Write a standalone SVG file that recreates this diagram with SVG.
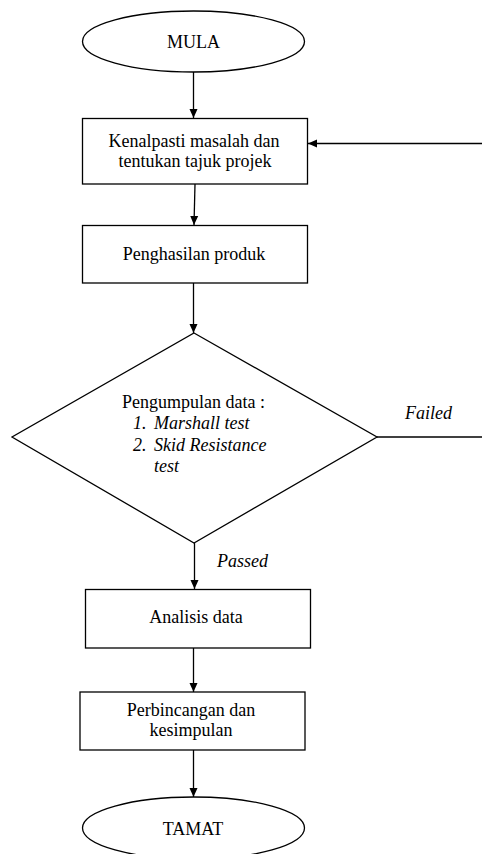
<svg xmlns="http://www.w3.org/2000/svg" width="482" height="854" viewBox="0 0 482 854">
<style>
.s{fill:#fff;stroke:#000;stroke-width:1.3}
.t{font-family:"Liberation Serif","Times New Roman",serif;font-size:18px;fill:#000}
.c{text-anchor:middle}
.i{font-style:italic}
.l{fill:none;stroke:#000;stroke-width:1.3}
</style>
<defs>
<marker id="a" markerWidth="10" markerHeight="10" refX="9" refY="5" orient="auto" markerUnits="userSpaceOnUse">
<path d="M0,1 L9,5 L0,9 Z" fill="#000"/>
</marker>
</defs>
<rect width="482" height="854" fill="#fff"/>
<g id="connectors">
<line class="l" x1="193.5" y1="72" x2="193.5" y2="118" marker-end="url(#a)"/>
<line class="l" x1="482" y1="143.5" x2="308" y2="143.5" marker-end="url(#a)"/>
<line class="l" x1="195" y1="184" x2="194" y2="225" marker-end="url(#a)"/>
<line class="l" x1="193.5" y1="283" x2="193.5" y2="333" marker-end="url(#a)"/>
<line class="l" x1="377" y1="437" x2="482" y2="437"/>
<line class="l" x1="194.5" y1="543" x2="194.5" y2="589" marker-end="url(#a)"/>
<line class="l" x1="193.5" y1="648" x2="193.5" y2="692" marker-end="url(#a)"/>
<line class="l" x1="193.5" y1="750" x2="193.5" y2="797" marker-end="url(#a)"/>
<text class="t i" x="405" y="419">Failed</text>
<text class="t i" x="217" y="567">Passed</text>
</g>
<g id="mula">
<ellipse class="s" cx="193.5" cy="41.5" rx="111" ry="30.5"/>
<text class="t c" x="193.5" y="48">MULA</text>
</g>
<g id="kenalpasti">
<rect class="s" x="82.5" y="118.5" width="225" height="65.5"/>
<text class="t c" x="194" y="147">Kenalpasti  masalah dan</text>
<text class="t c" x="195" y="167">tentukan tajuk projek</text>
</g>
<g id="penghasilan">
<rect class="s" x="82.5" y="225.5" width="225" height="57.5"/>
<text class="t c" x="194" y="260">Penghasilan produk</text>
</g>
<g id="pengumpulan">
<polygon class="s" points="194,333 377,437 194,543 12,437"/>
<text class="t" x="122" y="408">Pengumpulan data :</text>
<text class="t i" x="133" y="429">1.</text>
<text class="t i" x="154" y="429">Marshall test</text>
<text class="t i" x="133" y="451">2.</text>
<text class="t i" x="154" y="451">Skid  Resistance</text>
<text class="t i" x="154" y="472">test</text>
</g>
<g id="analisis">
<rect class="s" x="85.5" y="589.5" width="225" height="58.5"/>
<text class="t c" x="196" y="623">Analisis  data</text>
</g>
<g id="perbincangan">
<rect class="s" x="80" y="692" width="225" height="58"/>
<text class="t c" x="191" y="716">Perbincangan dan</text>
<text class="t c" x="191" y="736">kesimpulan</text>
</g>
<g id="tamat">
<ellipse class="s" cx="193.5" cy="828" rx="111" ry="31"/>
<text class="t c" x="193" y="835">TAMAT</text>
</g>
</svg>
